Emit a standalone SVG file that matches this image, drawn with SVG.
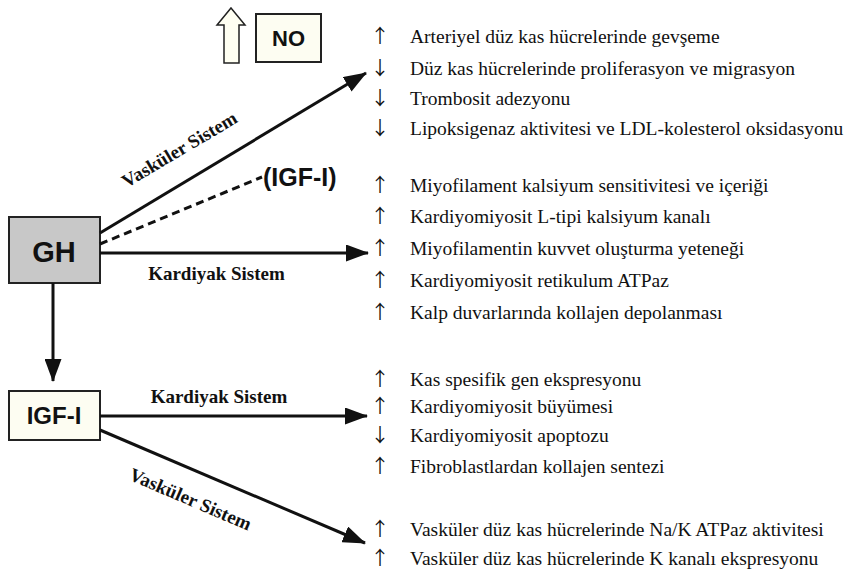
<svg xmlns="http://www.w3.org/2000/svg" width="845" height="573" viewBox="0 0 845 573">
<style>
.box{stroke:#222;stroke-width:2}
.bt{font-family:"Liberation Sans",Arial,sans-serif;font-weight:bold;fill:#111;text-anchor:middle}
.lbl{font-family:"Liberation Serif","Times New Roman",serif;font-weight:bold;font-size:19px;fill:#111;text-anchor:middle}
.it{font-family:"Liberation Serif","Times New Roman",serif;font-size:19.5px;fill:#111}
.ar{font-family:"Noto Sans CJK JP","DejaVu Sans",sans-serif;font-size:19px;fill:#111;text-anchor:middle}
.ln{stroke:#111;stroke-width:3;fill:none}
</style>
<defs>
<marker id="ah" markerWidth="23" markerHeight="17" refX="22" refY="8.5" orient="auto" markerUnits="userSpaceOnUse">
<path d="M0,0 L23,8.5 L0,17 Z" fill="#111"/>
</marker>
</defs>
<rect width="845" height="573" fill="#fff"/>

<g id="no-arrow">
<polygon points="231,8 245,25 239,25 239,63 224,63 224,25 217,25" fill="#fffff2" stroke="#222" stroke-width="1.5"/>
</g>
<g id="node-no">
<rect class="box" x="256" y="14" width="65" height="48" fill="#fdfdf2"/>
<text class="bt" x="288.5" y="46" font-size="22">NO</text>
</g>
<g id="node-gh">
<rect class="box" x="9" y="217" width="91" height="66" fill="#c8c8c8"/>
<text class="bt" x="54" y="262" font-size="29">GH</text>
</g>
<g id="node-igf">
<rect class="box" x="9" y="391" width="91" height="49" fill="#fdfdf2"/>
<text class="bt" x="54" y="424" font-size="24">IGF-I</text>
</g>

<g id="connectors">
<line class="ln" x1="100" y1="233" x2="366" y2="73" marker-end="url(#ah)"/>
<line class="ln" x1="100" y1="244" x2="262" y2="177" stroke-dasharray="8 5"/>
<line class="ln" x1="100" y1="253" x2="368" y2="253" marker-end="url(#ah)"/>
<line class="ln" x1="53" y1="283" x2="53" y2="381" marker-end="url(#ah)"/>
<line class="ln" x1="100" y1="416" x2="367" y2="416" marker-end="url(#ah)"/>
<line class="ln" x1="100" y1="430" x2="365" y2="543" marker-end="url(#ah)"/>
</g>

<g id="edge-labels">
<text class="lbl" transform="translate(182.5,155) rotate(-30.6)">Vasküler Sistem</text>
<text class="bt" x="263" y="186" font-size="25" style="text-anchor:start">(IGF-I)</text>
<text class="lbl" x="216.5" y="280">Kardiyak Sistem</text>
<text class="lbl" x="219" y="403">Kardiyak Sistem</text>
<text class="lbl" transform="translate(188,505) rotate(23.2)">Vasküler Sistem</text>
</g>

<g id="effects">
<text class="ar" x="380" y="43">↑</text><text class="it" x="410" y="43">Arteriyel düz kas hücrelerinde gevşeme</text>
<text class="ar" x="380" y="75">↓</text><text class="it" x="410" y="75">Düz kas hücrelerinde proliferasyon ve migrasyon</text>
<text class="ar" x="380" y="105">↓</text><text class="it" x="410" y="105">Trombosit adezyonu</text>
<text class="ar" x="380" y="135">↓</text><text class="it" x="410" y="135">Lipoksigenaz aktivitesi ve LDL-kolesterol oksidasyonu</text>

<text class="ar" x="380" y="192">↑</text><text class="it" x="410" y="192">Miyofilament kalsiyum sensitivitesi ve içeriği</text>
<text class="ar" x="380" y="223">↑</text><text class="it" x="410" y="223">Kardiyomiyosit L-tipi kalsiyum kanalı</text>
<text class="ar" x="380" y="255">↑</text><text class="it" x="410" y="255">Miyofilamentin kuvvet oluşturma yeteneği</text>
<text class="ar" x="380" y="287">↑</text><text class="it" x="410" y="287">Kardiyomiyosit retikulum ATPaz</text>
<text class="ar" x="380" y="319">↑</text><text class="it" x="410" y="319">Kalp duvarlarında kollajen depolanması</text>

<text class="ar" x="380" y="386">↑</text><text class="it" x="410" y="386">Kas spesifik gen ekspresyonu</text>
<text class="ar" x="380" y="413">↑</text><text class="it" x="410" y="413">Kardiyomiyosit büyümesi</text>
<text class="ar" x="380" y="442">↓</text><text class="it" x="410" y="442">Kardiyomiyosit apoptozu</text>
<text class="ar" x="380" y="473">↑</text><text class="it" x="410" y="473">Fibroblastlardan kollajen sentezi</text>

<text class="ar" x="380" y="536">↑</text><text class="it" x="410" y="536">Vasküler düz kas hücrelerinde Na/K ATPaz aktivitesi</text>
<text class="ar" x="380" y="565">↑</text><text class="it" x="410" y="565">Vasküler düz kas hücrelerinde K kanalı ekspresyonu</text>
</g>
</svg>
